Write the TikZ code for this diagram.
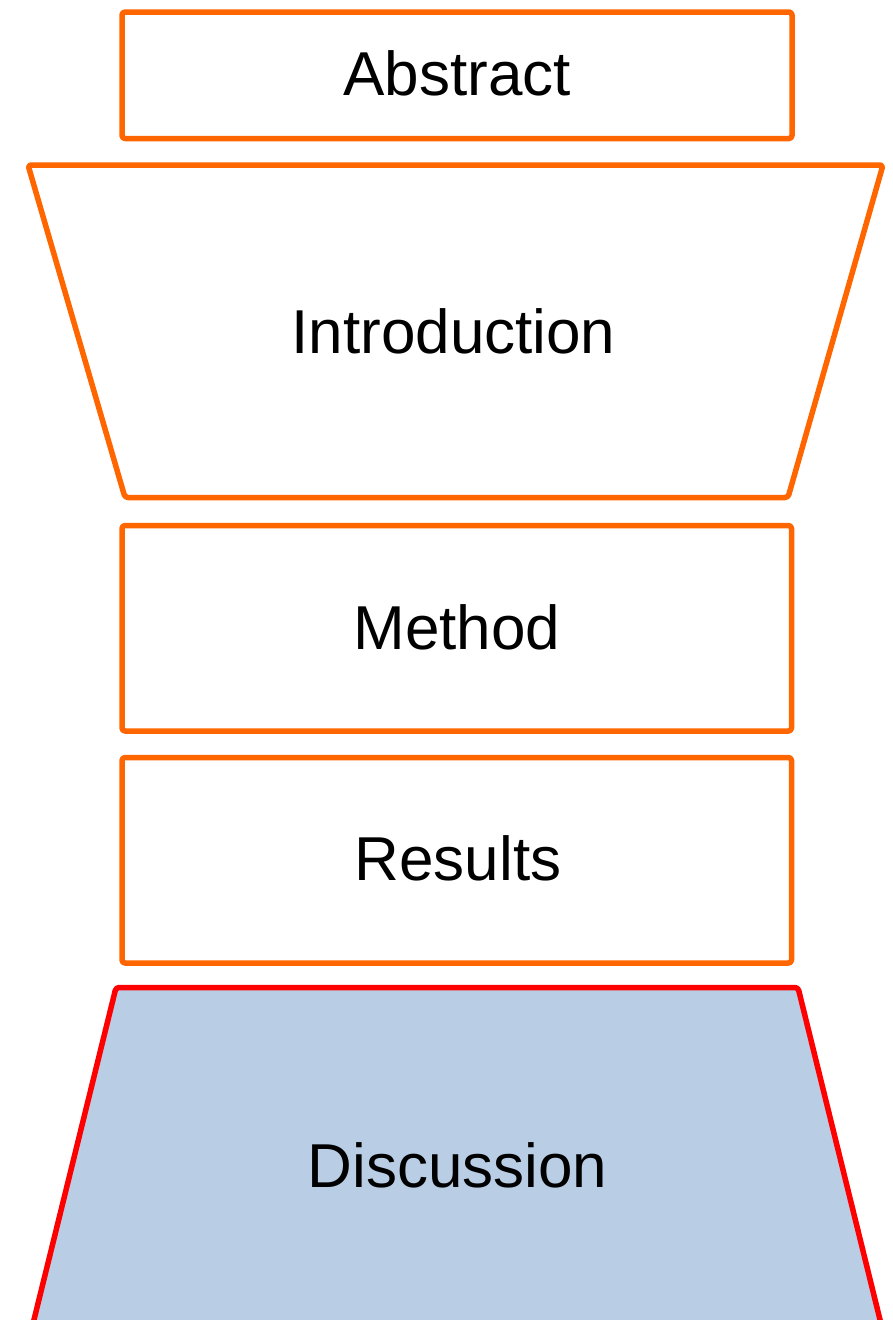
\documentclass[tikz,border=0pt]{standalone}
\usepackage{fontspec}
\setmainfont{Liberation Sans}
\definecolor{boxorange}{HTML}{FF6600}
\definecolor{boxred}{HTML}{FF0000}
\definecolor{discfill}{HTML}{B9CDE5}
\tikzset{
  part/.style={draw=boxorange, line width=5.5pt, rounded corners=3pt, line join=round, fill=white},
  lastpart/.style={draw=boxred, line width=5.5pt, rounded corners=3pt, line join=round, fill=discfill},
  label/.style={anchor=base, inner sep=0pt, font=\fontsize{62}{70}\selectfont, text=black}
}
\begin{document}
\begin{tikzpicture}[x=1pt, y=-1pt]
\useasboundingbox (0,0) rectangle (892,1320);
\clip (0,0) rectangle (892,1320);
% shapes
\draw[part] (122,12) rectangle (792,138.5);
\draw[part] (28,165) -- (883,165) -- (788,497.5) -- (125,497.5) -- cycle;
\draw[part] (122,525.5) rectangle (791.5,731);
\draw[part] (122,757.5) rectangle (791.5,963);
\draw[lastpart] (116,987.5) -- (798,987.5) -- (885,1340) -- (29,1340) -- cycle;
% labels
\node[label] (abstract) at (457,95) {Abstract};
\node[label] (intro) at (453.5,353) {Introduction};
\node[label] (method) at (457,649) {Method};
\node[label] (results) at (458,880) {Results};
\node[label] (discussion) at (457.5,1187) {Discussion};
\end{tikzpicture}
\end{document}
